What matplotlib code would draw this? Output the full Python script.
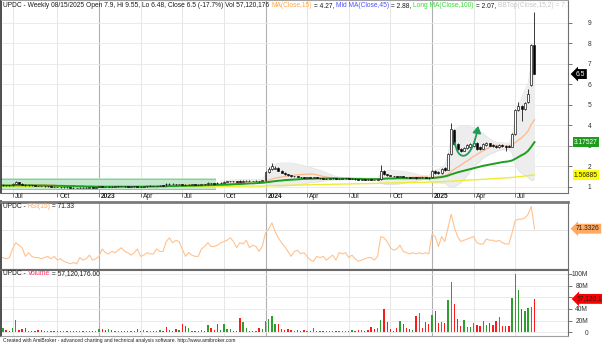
import numpy as np
import pandas as pd
import matplotlib
matplotlib.use("Agg")
import matplotlib.pyplot as plt
import matplotlib.transforms as mtransforms
from matplotlib.patches import Rectangle, FancyArrowPatch
from matplotlib.path import Path

plt.rcParams['font.family'] = ['Liberation Sans', 'DejaVu Sans']

# ---------------- data (weekly bars) ----------------
ticker = "UPDC"
first_bar = "2022-06-03"
last_bar = "2025-08-15"

opens = [
    1.08, 1.06, 1.09, 1.08, 1.06, 1.14, 1.22, 1.15, 1.10, 1.06,
    1.08, 1.06, 1.04, 1.03, 1.02, 1.01, 1.02, 1.00, 0.99, 0.98,
    0.97, 0.98, 0.97, 0.96, 0.95, 0.94, 0.96, 0.95, 0.96, 0.97,
    0.96, 0.98, 1.01, 0.99, 0.98, 1.00, 0.99, 1.01, 1.03, 1.02,
    1.01, 1.00, 1.02, 1.01, 1.00, 0.99, 1.01, 1.02, 1.04, 1.03,
    1.02, 1.06, 1.14, 1.12, 1.15, 1.13, 1.12, 1.13, 1.10, 1.08,
    1.10, 1.11, 1.10, 1.09, 1.12, 1.11, 1.18, 1.16, 1.20, 1.17,
    1.20, 1.25, 1.26, 1.27, 1.26, 1.30, 1.25, 1.29, 1.30, 1.29,
    1.28, 1.29, 1.27, 1.31, 1.72, 1.85, 1.88, 1.92, 1.78, 1.68,
    1.60, 1.55, 1.50, 1.52, 1.47, 1.45, 1.43, 1.45, 1.42, 1.46,
    1.42, 1.40, 1.38, 1.39, 1.40, 1.41, 1.38, 1.39, 1.40, 1.41,
    1.38, 1.39, 1.37, 1.35, 1.36, 1.35, 1.36, 1.34, 1.33, 1.36,
    1.75, 1.62, 1.55, 1.52, 1.50, 1.47, 1.52, 1.47, 1.45, 1.44,
    1.45, 1.41, 1.47, 1.45, 1.44, 1.45, 1.78, 1.72, 1.66, 1.90,
    1.82, 2.60, 3.75, 3.10, 2.85, 2.75, 2.90, 2.95, 3.00, 3.15,
    2.95, 2.85, 3.05, 3.12, 3.05, 3.00, 2.92, 3.05, 3.00, 3.00,
    2.96, 3.55, 4.75, 4.95, 4.80, 5.15, 5.95, 7.90]

highs = [
    1.10, 1.11, 1.10, 1.09, 1.16, 1.28, 1.23, 1.16, 1.11, 1.10,
    1.09, 1.07, 1.05, 1.04, 1.03, 1.04, 1.03, 1.01, 1.00, 0.99,
    1.00, 0.99, 0.98, 0.97, 0.96, 0.98, 0.97, 0.98, 0.99, 0.98,
    1.00, 1.03, 1.02, 1.00, 1.02, 1.01, 1.03, 1.05, 1.04, 1.03,
    1.02, 1.04, 1.03, 1.02, 1.01, 1.03, 1.04, 1.07, 1.05, 1.04,
    1.06, 1.07, 1.17, 1.18, 1.16, 1.14, 1.15, 1.14, 1.11, 1.12,
    1.13, 1.12, 1.11, 1.14, 1.13, 1.22, 1.19, 1.18, 1.22, 1.22,
    1.28, 1.28, 1.29, 1.28, 1.27, 1.32, 1.31, 1.32, 1.31, 1.30,
    1.31, 1.30, 1.33, 1.78, 1.95, 2.17, 2.02, 1.94, 1.80, 1.70,
    1.62, 1.57, 1.54, 1.53, 1.49, 1.47, 1.47, 1.47, 1.48, 1.47,
    1.43, 1.41, 1.40, 1.41, 1.42, 1.42, 1.40, 1.41, 1.42, 1.42,
    1.40, 1.40, 1.38, 1.37, 1.37, 1.36, 1.37, 1.35, 1.37, 2.07,
    1.80, 1.64, 1.57, 1.54, 1.52, 1.54, 1.53, 1.49, 1.47, 1.47,
    1.47, 1.49, 1.48, 1.46, 1.45, 1.82, 1.80, 1.75, 1.92, 1.95,
    2.65, 4.10, 3.80, 3.15, 2.88, 2.95, 3.10, 3.15, 3.22, 3.18,
    2.98, 3.15, 3.16, 3.14, 3.08, 3.03, 3.08, 3.08, 3.03, 3.02,
    3.62, 4.80, 5.15, 4.98, 5.15, 5.75, 7.95, 9.55]

lows = [
    1.04, 1.04, 1.05, 1.04, 1.05, 1.12, 1.13, 1.08, 1.04, 1.05,
    1.04, 1.03, 1.02, 1.01, 1.00, 1.00, 0.99, 0.98, 0.97, 0.96,
    0.96, 0.96, 0.95, 0.94, 0.93, 0.93, 0.94, 0.94, 0.95, 0.95,
    0.95, 0.97, 0.98, 0.97, 0.97, 0.98, 0.98, 1.00, 1.01, 1.00,
    0.99, 0.99, 1.00, 0.99, 0.98, 0.98, 1.00, 1.01, 1.02, 1.01,
    1.01, 1.03, 1.05, 1.10, 1.11, 1.10, 1.11, 1.08, 1.06, 1.07,
    1.09, 1.08, 1.07, 1.08, 1.09, 1.10, 1.14, 1.13, 1.15, 1.16,
    1.19, 1.24, 1.25, 1.24, 1.23, 1.23, 1.24, 1.28, 1.27, 1.26,
    1.27, 1.25, 1.26, 1.30, 1.68, 1.82, 1.84, 1.75, 1.65, 1.57,
    1.52, 1.47, 1.48, 1.45, 1.43, 1.41, 1.41, 1.40, 1.40, 1.40,
    1.38, 1.36, 1.36, 1.37, 1.38, 1.36, 1.37, 1.37, 1.38, 1.36,
    1.36, 1.35, 1.33, 1.33, 1.33, 1.32, 1.31, 1.31, 1.31, 1.34,
    1.58, 1.52, 1.50, 1.48, 1.45, 1.45, 1.45, 1.43, 1.42, 1.42,
    1.39, 1.40, 1.43, 1.40, 1.39, 1.42, 1.62, 1.62, 1.64, 1.78,
    1.80, 2.55, 3.05, 2.80, 2.70, 2.72, 2.86, 2.90, 2.96, 2.80,
    2.80, 2.82, 3.00, 2.97, 2.94, 2.88, 2.90, 2.94, 2.72, 2.92,
    2.93, 3.50, 4.70, 4.20, 4.76, 5.08, 5.90, 6.48]

closes = [
    1.06, 1.09, 1.07, 1.06, 1.14, 1.22, 1.15, 1.10, 1.06, 1.08,
    1.06, 1.04, 1.03, 1.02, 1.01, 1.02, 1.00, 0.99, 0.98, 0.97,
    0.98, 0.97, 0.96, 0.95, 0.94, 0.96, 0.95, 0.96, 0.97, 0.96,
    0.98, 1.01, 0.99, 0.98, 1.00, 0.99, 1.01, 1.03, 1.02, 1.01,
    1.00, 1.02, 1.01, 1.00, 0.99, 1.01, 1.02, 1.04, 1.03, 1.02,
    1.04, 1.05, 1.12, 1.15, 1.13, 1.12, 1.13, 1.10, 1.08, 1.10,
    1.11, 1.10, 1.09, 1.12, 1.11, 1.18, 1.16, 1.15, 1.17, 1.20,
    1.25, 1.26, 1.27, 1.26, 1.25, 1.25, 1.29, 1.30, 1.29, 1.28,
    1.29, 1.27, 1.31, 1.72, 1.85, 2.00, 1.92, 1.78, 1.68, 1.60,
    1.55, 1.50, 1.52, 1.47, 1.45, 1.43, 1.45, 1.42, 1.46, 1.42,
    1.40, 1.38, 1.39, 1.40, 1.41, 1.38, 1.39, 1.40, 1.41, 1.38,
    1.39, 1.37, 1.35, 1.36, 1.35, 1.34, 1.33, 1.33, 1.36, 1.75,
    1.62, 1.55, 1.52, 1.50, 1.47, 1.52, 1.47, 1.45, 1.44, 1.45,
    1.41, 1.47, 1.45, 1.42, 1.41, 1.78, 1.65, 1.66, 1.88, 1.82,
    2.60, 3.80, 3.10, 2.85, 2.75, 2.90, 3.05, 3.10, 3.15, 2.85,
    2.85, 3.10, 3.12, 3.00, 2.98, 2.92, 3.05, 2.98, 2.95, 2.96,
    3.55, 4.75, 4.95, 4.80, 5.10, 5.55, 7.90, 6.50]

volumes_m = [
    2, 7, 4, 3, 8, 21, 4, 5, 7, 3,
    2, 3, 4, 4, 3, 2, 3, 2, 2, 2,
    2, 2, 2, 3, 2, 2, 3, 2, 2, 3,
    2, 5, 5, 4, 5, 4, 3, 2, 3, 2,
    2, 2, 3, 5, 2, 4, 3, 3, 2, 3,
    4, 3, 9, 4, 3, 6, 4, 14, 11, 7,
    3, 2, 3, 4, 3, 13, 7, 4, 14, 4,
    14, 6, 6, 3, 3, 24, 17, 8, 3, 3,
    3, 8, 6, 20, 23, 28, 14, 14, 5, 4,
    5, 4, 3, 4, 2, 4, 2, 2, 7, 2,
    2, 2, 2, 2, 2, 2, 2, 2, 2, 3,
    4, 3, 4, 4, 3, 4, 9, 6, 7, 21,
    40, 17, 5, 3, 7.5, 20, 14, 8, 5, 4,
    28, 33, 8, 17, 14, 29, 36, 15, 17, 15,
    55, 86, 49, 23, 10, 21, 9, 9, 16, 13,
    10, 20, 13, 15, 13, 19, 26, 11, 11.5, 11,
    59, 100, 73, 40, 36, 42, 44, 57.120176]

ma_short = [   # MA(Close,15), orange
    1.08, 1.08, 1.08, 1.08, 1.08, 1.09, 1.09, 1.10, 1.10, 1.10,
    1.10, 1.10, 1.10, 1.09, 1.09, 1.09, 1.08, 1.07, 1.06, 1.05,
    1.04, 1.03, 1.02, 1.01, 1.00, 0.99, 0.98, 0.98, 0.97, 0.97,
    0.97, 0.97, 0.97, 0.97, 0.97, 0.97, 0.98, 0.98, 0.98, 0.99,
    0.99, 0.99, 1.00, 1.00, 1.00, 1.01, 1.01, 1.01, 1.01, 1.02,
    1.02, 1.02, 1.03, 1.04, 1.05, 1.05, 1.06, 1.07, 1.07, 1.08,
    1.08, 1.09, 1.09, 1.10, 1.10, 1.11, 1.11, 1.12, 1.12, 1.13,
    1.14, 1.15, 1.16, 1.17, 1.18, 1.19, 1.20, 1.21, 1.22, 1.23,
    1.24, 1.25, 1.26, 1.28, 1.32, 1.37, 1.41, 1.45, 1.47, 1.50,
    1.52, 1.54, 1.56, 1.58, 1.59, 1.60, 1.61, 1.62, 1.61, 1.58,
    1.54, 1.50, 1.47, 1.45, 1.44, 1.43, 1.42, 1.41, 1.41, 1.40,
    1.40, 1.39, 1.39, 1.38, 1.37, 1.37, 1.36, 1.36, 1.36, 1.38,
    1.39, 1.40, 1.41, 1.42, 1.43, 1.44, 1.45, 1.45, 1.46, 1.46,
    1.47, 1.47, 1.48, 1.48, 1.45, 1.47, 1.48, 1.49, 1.51, 1.53,
    1.60, 1.75, 1.86, 1.96, 2.05, 2.17, 2.26, 2.37, 2.48, 2.57,
    2.67, 2.75, 2.84, 2.92, 3.01, 3.03, 2.98, 2.98, 2.98, 3.00,
    3.04, 3.15, 3.28, 3.39, 3.54, 3.72, 4.04, 4.27]

ma_mid = [     # dark green line
    1.06, 1.06, 1.06, 1.06, 1.06, 1.07, 1.07, 1.07, 1.07, 1.07,
    1.07, 1.06, 1.06, 1.06, 1.06, 1.05, 1.05, 1.05, 1.04, 1.04,
    1.04, 1.03, 1.03, 1.03, 1.02, 1.02, 1.02, 1.01, 1.01, 1.01,
    1.00, 1.00, 1.00, 1.00, 1.00, 1.00, 1.00, 1.00, 1.00, 1.00,
    1.00, 1.00, 1.00, 1.00, 1.00, 1.00, 1.01, 1.01, 1.01, 1.01,
    1.02, 1.02, 1.02, 1.03, 1.03, 1.03, 1.04, 1.04, 1.04, 1.05,
    1.05, 1.05, 1.06, 1.06, 1.07, 1.07, 1.08, 1.08, 1.09, 1.09,
    1.10, 1.10, 1.11, 1.12, 1.13, 1.13, 1.14, 1.15, 1.16, 1.16,
    1.17, 1.18, 1.19, 1.21, 1.23, 1.25, 1.27, 1.29, 1.30, 1.32,
    1.33, 1.34, 1.35, 1.36, 1.37, 1.38, 1.38, 1.39, 1.39, 1.40,
    1.40, 1.40, 1.40, 1.40, 1.40, 1.40, 1.39, 1.39, 1.39, 1.39,
    1.38, 1.38, 1.38, 1.38, 1.37, 1.37, 1.37, 1.37, 1.37, 1.38,
    1.39, 1.40, 1.40, 1.40, 1.41, 1.41, 1.41, 1.41, 1.41, 1.41,
    1.41, 1.41, 1.41, 1.41, 1.41, 1.42, 1.43, 1.45, 1.47, 1.50,
    1.54, 1.60, 1.65, 1.70, 1.74, 1.78, 1.82, 1.86, 1.90, 1.94,
    1.98, 2.02, 2.05, 2.08, 2.11, 2.14, 2.17, 2.20, 2.22, 2.24,
    2.28, 2.36, 2.45, 2.54, 2.62, 2.75, 2.95, 3.17527]

ma_long = [    # yellow line
    1.01, 1.01, 1.01, 1.01, 1.01, 1.01, 1.01, 1.01, 1.01, 1.01,
    1.01, 1.01, 1.01, 1.01, 1.01, 1.01, 1.01, 1.01, 1.00, 1.00,
    1.00, 1.00, 1.00, 1.00, 1.00, 1.00, 1.00, 1.00, 1.00, 1.00,
    1.00, 1.00, 1.00, 1.00, 1.00, 1.00, 1.00, 1.00, 1.00, 1.00,
    1.00, 1.00, 1.00, 1.00, 1.00, 1.00, 1.00, 1.00, 1.00, 1.00,
    1.00, 1.00, 1.00, 1.00, 1.00, 1.01, 1.01, 1.01, 1.01, 1.01,
    1.01, 1.01, 1.01, 1.01, 1.01, 1.01, 1.01, 1.01, 1.02, 1.02,
    1.02, 1.02, 1.02, 1.02, 1.02, 1.02, 1.03, 1.03, 1.03, 1.03,
    1.03, 1.03, 1.03, 1.04, 1.04, 1.05, 1.05, 1.06, 1.06, 1.07,
    1.07, 1.07, 1.08, 1.08, 1.08, 1.09, 1.09, 1.09, 1.10, 1.10,
    1.10, 1.11, 1.11, 1.11, 1.12, 1.12, 1.12, 1.13, 1.13, 1.13,
    1.14, 1.14, 1.14, 1.15, 1.15, 1.15, 1.16, 1.16, 1.16, 1.17,
    1.17, 1.18, 1.18, 1.18, 1.19, 1.19, 1.19, 1.20, 1.20, 1.20,
    1.21, 1.21, 1.21, 1.22, 1.22, 1.23, 1.23, 1.24, 1.24, 1.25,
    1.26, 1.27, 1.28, 1.29, 1.30, 1.31, 1.32, 1.33, 1.33, 1.34,
    1.35, 1.36, 1.37, 1.38, 1.39, 1.40, 1.41, 1.42, 1.43, 1.44,
    1.45, 1.47, 1.49, 1.50, 1.52, 1.54, 1.56, 1.56885]

bb_first = 69  # first bar where the grey band is drawn
bb_top = [
    1.27, 1.29, 1.31, 1.32, 1.33, 1.33, 1.34, 1.35, 1.35, 1.35,
    1.35, 1.35, 1.35, 1.35, 1.58, 1.80, 2.00, 2.10, 2.14, 2.16,
    2.16, 2.16, 2.15, 2.13, 2.10, 2.06, 2.02, 1.98, 1.94, 1.90,
    1.85, 1.80, 1.75, 1.68, 1.62, 1.56, 1.50, 1.47, 1.46, 1.45,
    1.44, 1.44, 1.43, 1.43, 1.42, 1.42, 1.42, 1.42, 1.41, 1.41,
    1.62, 1.74, 1.78, 1.79, 1.78, 1.77, 1.76, 1.74, 1.72, 1.69,
    1.66, 1.62, 1.57, 1.55, 1.54, 1.52, 1.75, 1.82, 1.85, 1.95,
    2.02, 2.55, 3.40, 3.75, 3.90, 3.95, 3.97, 3.96, 3.92, 3.88,
    3.80, 3.70, 3.60, 3.45, 3.35, 3.25, 3.18, 3.15, 3.14, 3.13,
    3.12, 3.45, 4.35, 4.95, 5.35, 5.70, 6.05, 7.00, 7.19]
bb_bot = [
    1.05, 1.04, 1.04, 1.05, 1.06, 1.08, 1.09, 1.10, 1.12, 1.14,
    1.16, 1.18, 1.19, 1.20, 1.15, 1.10, 1.06, 1.04, 1.03, 1.03,
    1.03, 1.04, 1.05, 1.07, 1.09, 1.11, 1.14, 1.17, 1.20, 1.22,
    1.23, 1.25, 1.27, 1.29, 1.31, 1.32, 1.33, 1.33, 1.34, 1.34,
    1.34, 1.34, 1.34, 1.33, 1.33, 1.32, 1.32, 1.31, 1.31, 1.30,
    1.18, 1.12, 1.10, 1.10, 1.11, 1.12, 1.14, 1.16, 1.19, 1.21,
    1.24, 1.27, 1.31, 1.34, 1.35, 1.33, 1.20, 1.18, 1.19, 1.17,
    1.18, 1.05, 0.95, 1.00, 1.08, 1.20, 1.35, 1.55, 1.75, 1.95,
    2.10, 2.25, 2.40, 2.50, 2.58, 2.65, 2.72, 2.77, 2.80, 2.82,
    2.83, 2.65, 2.05, 1.80, 1.65, 1.55, 1.45, 1.30, 1.35]

rsi = [        # RSI(15)
    48, 48, 47, 48, 55, 60, 58, 56, 49, 52,
    49, 48, 48, 47, 48, 49, 47, 49, 46, 47,
    45, 44, 43, 44, 43, 48, 46, 47, 50, 46,
    47, 49, 55, 52, 51, 53, 52, 54, 56, 53,
    52, 50, 52, 55, 49, 50, 52, 51, 51, 55,
    53, 53, 61, 64, 60, 62, 61, 55, 49, 52,
    50, 49, 49, 55, 57, 60, 57, 57, 58, 60,
    61, 62, 64, 61, 56, 60, 59, 62, 56, 58,
    57, 53, 57, 68, 71, 76, 69, 64, 60, 57,
    53, 49, 53, 54, 51, 52, 49, 46, 45, 49,
    48, 49, 46, 48, 50, 46, 52, 51, 52, 48,
    50, 47, 45, 46, 47, 48, 48, 46, 49, 65,
    64, 61, 56, 54, 55, 58, 53, 52, 51, 52,
    51, 52, 51, 52, 51, 67, 65, 57, 65, 61,
    72, 83, 72, 65, 61, 62, 63, 64, 65, 60,
    59, 59, 63, 62, 62, 61, 62, 60, 59, 59,
    68, 78, 79, 79, 80, 83, 89.4, 71.3326]

price_ticks = [1, 2, 3, 4, 5, 6, 7, 8, 9]
volume_ticks_m = [0, 20, 40, 60, 80, 100]

# ---------------- figure ----------------
dates = pd.date_range(first_bar, last_bar, freq="W-FRI")
n = len(dates)
x = np.arange(n)
o = np.array(opens); h = np.array(highs); l = np.array(lows); c = np.array(closes)
vol = np.array(volumes_m) * 1e6
up = c >= o

W, H = 602, 347
fig = plt.figure(figsize=(W / 100, H / 100), dpi=100)
fig.patch.set_facecolor('white')


def rect(x0, y0, x1, y1):
    return [x0 / W, 1 - y1 / H, (x1 - x0) / W, (y1 - y0) / H]


ax_p = fig.add_axes(rect(0.5, 0.5, 568, 192.5))
ax_r = fig.add_axes(rect(0.5, 201.5, 568, 268.5))
ax_v = fig.add_axes(rect(0.5, 269.5, 568, 336))
XL = (0.24, 177.47)
FS = 4.75

tick_idx = [i for i in range(1, n)
            if dates[i].month != dates[i - 1].month and dates[i].month in (1, 4, 7, 10)]

for ax in (ax_p, ax_r, ax_v):
    ax.set_xlim(XL)
    for i in tick_idx:
        yr = dates[i].month == 1
        ax.axvline(i, color='#b0b0b0' if yr else '#e2e2e2', lw=0.8 if yr else 0.6, zorder=0)
    for s in ax.spines.values():
        s.set_color('#707070'); s.set_linewidth(0.8)
    ax.spines['left'].set_color('#303030'); ax.spines['left'].set_linewidth(1.2)
    ax.yaxis.tick_right()
    ax.tick_params(axis='x', bottom=False, labelbottom=False)

# ---- price pane ----
ax_p.set_ylim(0.716, 10.092)
for v in price_ticks:
    ax_p.axhline(v, color='#e8e8e8', lw=0.6, zorder=0)

# green zone drawn on the early part
ax_p.add_patch(Rectangle((XL[0], 0.84), 67.3, 0.56, fc='#c4e8cd', ec='none', zorder=0.6))
ax_p.add_patch(Rectangle((XL[0], 1.32), 67.3, 0.07, fc='#86d19a', ec='none', zorder=0.7))
ax_p.add_patch(Rectangle((XL[0], 0.84), 67.3, 0.06, fc='#86d19a', ec='none', zorder=0.7))
ax_p.add_patch(Rectangle((6, 0.77), 8, 0.04, fc='#3aa55a', ec='none', zorder=0.7))

xb = x[bb_first:]
ax_p.fill_between(xb, bb_bot, bb_top, color='#ededed', lw=0, zorder=1)
ax_p.plot(xb, bb_top, color='#e0e0e0', lw=0.5, zorder=1.1)
ax_p.plot(xb, bb_bot, color='#e0e0e0', lw=0.5, zorder=1.1)

ax_p.plot(x, ma_long, color='#ecec35', lw=1.0, zorder=2)
ax_p.plot(x, ma_short, color='#ffb889', lw=0.9, zorder=2)
ax_p.plot(x, ma_mid, color='#1e9e1e', lw=1.4, zorder=2)

ax_p.vlines(x, l, h, color='#1a1a1a', lw=0.6, zorder=3)
body_h = np.maximum(np.abs(c - o), 0.01)
ax_p.bar(x, body_h, bottom=np.minimum(o, c), width=0.62,
         color=np.where(up, 'white', 'black'), edgecolor='#1a1a1a', linewidth=0.5, zorder=4)

# hand drawn cup arrow
verts = [(142.2, 3.14), (143.0, 2.2), (147.5, 2.2), (149.4, 3.97)]
codes = [Path.MOVETO, Path.CURVE4, Path.CURVE4, Path.CURVE4]
ax_p.add_patch(FancyArrowPatch(path=Path(verts, codes), arrowstyle='-|>,head_length=0.5,head_width=0.3',
                               mutation_scale=8, color='#1f9d55', lw=1.3, zorder=6))

ax_p.set_yticks(price_ticks)
ax_p.set_yticklabels([str(v) for v in price_ticks])
ax_p.tick_params(axis='y', right=True, left=False, length=3, width=0.6, color='#606060',
                 labelsize=FS, pad=13.7, labelcolor='#303030')
for t in ax_p.get_yticklabels():
    t.set_ha('right')
ax_p.set_xticks(tick_idx)
ax_p.tick_params(axis='x', bottom=True, length=3, width=0.6, color='#606060', labelbottom=False)
ax_p.spines['top'].set_color('#a0a0a0')

# date labels
tr_date = mtransforms.blended_transform_factory(ax_p.transData, fig.transFigure)
for i in tick_idx:
    d = dates[i]
    yr = d.month == 1
    ax_p.text(i + 0.6, 1 - 196.8 / H, str(d.year) if yr else d.strftime('%b'),
              transform=tr_date, fontsize=FS, va='center', ha='left',
              fontweight='bold' if yr else 'normal', color='#202020', clip_on=False)

# ---- RSI pane ----
ax_r.set_ylim(39.2, 93.3)
ax_r.axhline(70, color='#e2e2e2', lw=0.6, zorder=0)
ax_r.plot(x, rsi, color='#ffc28f', lw=0.8, zorder=2)
ax_r.set_yticks([])
ax_r.spines['top'].set_linewidth(2.0); ax_r.spines['top'].set_color('#7a7a7a')

# ---- Volume pane ----
ax_v.set_ylim(-6.4e6, 107.4e6)
for v in volume_ticks_m:
    ax_v.axhline(v * 1e6, color='#e8e8e8', lw=0.6, zorder=0)
ax_v.bar(x, vol, width=0.42, color=np.where(up, '#2e9e2e', '#ff1a1a'), lw=0, zorder=2)
ax_v.set_yticks([v * 1e6 for v in volume_ticks_m])
ax_v.set_yticklabels(['0' if v == 0 else f'{v}M' for v in volume_ticks_m])
ax_v.tick_params(axis='y', right=True, left=False, length=3, width=0.6, color='#606060',
                 labelsize=FS, pad=11.5, labelcolor='#303030')
for t in ax_v.get_yticklabels():
    t.set_ha('right')
ax_v.spines['top'].set_linewidth(1.5); ax_v.spines['top'].set_color('#6a6a6a')
ax_v.spines['bottom'].set_color('#a0a0a0')


# ---- value markers on the right ----
def marker(ax, y, s, fc, tc, xpx, style='larrow'):
    tr = mtransforms.blended_transform_factory(fig.transFigure, ax.transData)
    ax.text(xpx / W, y, s, transform=tr, fontsize=FS, color=tc, va='center', ha='left',
            clip_on=False, zorder=10,
            bbox=dict(boxstyle=f'{style},pad=0.22', fc=fc, ec='none'))


marker(ax_p, closes[-1], f'{closes[-1]:g}', '#000000', 'white', 576)
marker(ax_p, ma_mid[-1], f'{ma_mid[-1]:.5f}', '#1f9c1f', 'white', 574, 'square')
marker(ax_p, ma_long[-1], f'{ma_long[-1]:.5f}', '#ffff00', '#202020', 574, 'square')
marker(ax_r, rsi[-1], f'{rsi[-1]:.4f}', '#ffa860', '#202020', 576)
marker(ax_v, vol[-1], f'{vol[-1]:,.0f}', '#ff0000', '#202020', 577)


# ---- coloured title lines ----
def chain(ax, xpx, ypx, parts, fs, clip=True):
    prev = ax.text(xpx / W, 1 - ypx / H, parts[0][0], color=parts[0][1], transform=fig.transFigure,
                   fontsize=fs, va='bottom', ha='left', clip_on=clip, zorder=12)
    for s, col in parts[1:]:
        prev = ax.annotate(s, xy=(1, 0), xycoords=prev, va='bottom', ha='left', color=col,
                           fontsize=fs, clip_on=clip, annotation_clip=False, zorder=12)


chain(ax_p, 3, 9.0, [
    (f"{ticker} - Weekly 08/15/2025 Open 7.9, Hi 9.55, Lo 6.48, Close 6.5 (-17.7%) Vol 57,120,176 ", '#1a1a1a'),
    ("MA(Close,15)", '#ffa64d'), (" = 4.27, ", '#1a1a1a'),
    ("Mid MA(Close,45)", '#5050ff'), (" = 2.88, ", '#1a1a1a'),
    ("Long MA(Close,100)", '#33dd33'), (" = 2.07, ", '#1a1a1a'),
    ("BBTop(Close,15,2) = 7.19, BBBot(Close,15,2) = 1.35", '#c8c8c8')], FS)
chain(ax_r, 3, 210.0, [(f"{ticker} - ", '#1a1a1a'), ("RSI(15)", '#ffa860'),
                       (f" = {rsi[-1]:.2f}", '#1a1a1a')], FS)
chain(ax_v, 3, 277.0, [(f"{ticker} - ", '#1a1a1a'), ("Volume", '#ff3060'),
                       (f" = {vol[-1]:,.2f}", '#1a1a1a')], FS)

fig.text(3 / W, 1 - 340.5 / H,
         "Created with AmiBroker - advanced charting and technical analysis software. http://www.amibroker.com",
         fontsize=3.6, color='#202020', va='center', ha='left')

fig.savefig('out.png', dpi=100, facecolor='white')
